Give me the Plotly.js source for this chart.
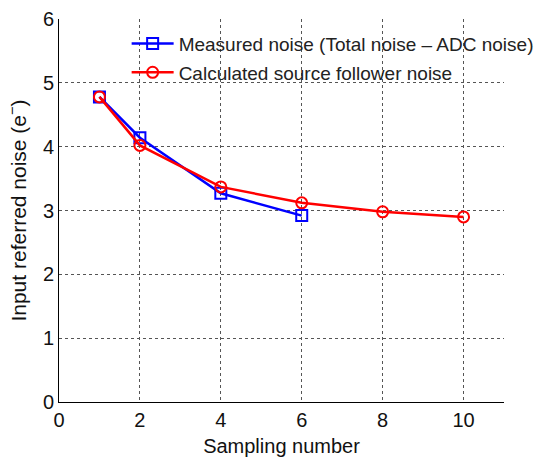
<!DOCTYPE html>
<html><head><meta charset="utf-8">
<script src="https://cdn.plot.ly/plotly-3.0.1.min.js"></script>
<style>body{margin:0;background:#fff}#c{width:546px;height:464px}</style>
</head><body><div id="c"></div>
<script>
const measuredX = [1, 2, 4, 6];
const measuredY = [4.78, 4.14, 3.27, 2.92];
const calcX = [1, 2, 4, 6, 8, 10];
const calcY = [4.78, 4.02, 3.37, 3.12, 2.98, 2.90];
const xTicks = [0, 2, 4, 6, 8, 10];
const yTicks = [0, 1, 2, 3, 4, 5, 6];

const traces = [
  {x: measuredX, y: measuredY, mode: 'lines+markers', name: 'Measured noise (Total noise – ADC noise)', legendgroup: 'a',
   line: {color: '#0000ff', width: 2.5}, marker: {symbol: 'square-open', size: 11, color: '#0000ff', line: {width: 2, color: '#0000ff'}}},
  {x: calcX, y: calcY, mode: 'lines+markers', name: 'Calculated source follower noise', legendgroup: 'b',
   line: {color: '#ff0000', width: 2.5}, marker: {symbol: 'circle-open', size: 11, color: '#ff0000', line: {width: 2, color: '#ff0000'}}}
];
const font = {family: '"Liberation Sans", Arial, sans-serif', size: 18, color: '#111'};
const layout = {
  width: 546, height: 464,
  margin: {l: 59, r: 42, t: 19, b: 62, autoexpand: false},
  paper_bgcolor: '#fff', plot_bgcolor: '#fff',
  font: font,
  showlegend: true,
  legend: {x: 0.152, y: 0.985, xanchor: 'left', yanchor: 'top', bgcolor: 'rgba(0,0,0,0)', itemwidth: 42,
           font: {family: font.family, size: 19, color: '#222'}, traceorder: 'grouped', tracegroupgap: 1},
  xaxis: {range: [0, 11], tickvals: xTicks, ticktext: xTicks.map(String), showgrid: true,
          gridcolor: '#555', griddash: 'dot', gridwidth: 1, showline: true, linecolor: '#000', linewidth: 1,
          zeroline: false, ticks: '', tickfont: {size: 20}, title: {text: 'Sampling number', font: {size: 20}, standoff: 8}},
  yaxis: {range: [0, 6], tickvals: yTicks, ticktext: yTicks.map(String), showgrid: true,
          gridcolor: '#555', griddash: 'dot', gridwidth: 1, showline: true, linecolor: '#000', linewidth: 1,
          zeroline: false, ticks: '', tickfont: {size: 20}, title: {text: 'Input referred noise (e<sup>−</sup>)', font: {size: 21}, standoff: 10}}
};
Plotly.newPlot('c', traces, layout, {displayModeBar: false, staticPlot: true});
</script></body></html>
